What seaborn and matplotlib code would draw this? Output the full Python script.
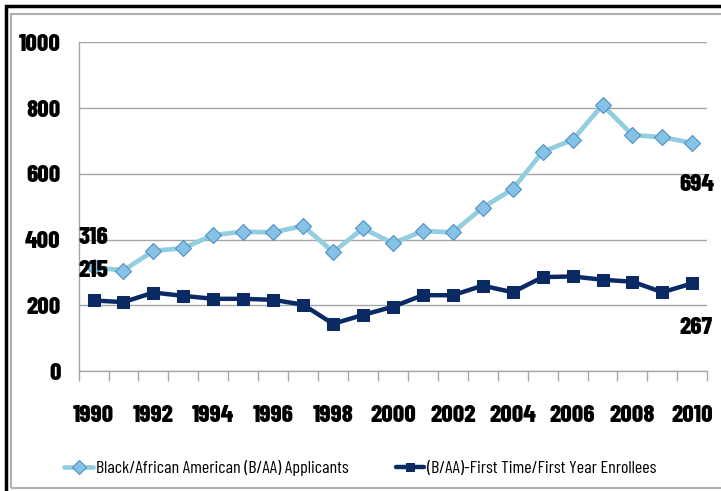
import pandas as pd
import numpy as np
import matplotlib
matplotlib.use("Agg")
import matplotlib.pyplot as plt
import seaborn as sns
from matplotlib.patches import Rectangle
from matplotlib.ticker import FixedLocator

# data
years = list(range(1990, 2011))
applicants = [316, 306, 366, 374, 414, 424, 422, 442, 362, 434, 389, 426, 422, 497,
              554, 667, 703, 809, 718, 711, 694]
enrollees = [215, 210, 239, 229, 220, 220, 217, 202, 144, 171, 196, 231, 231, 260,
             240, 286, 288, 278, 272, 240, 267]
labels = ["Black/African American (B/AA) Applicants",
          "(B/AA)-First Time/First Year Enrollees"]
year_ticks = list(range(1990, 2011, 2))
y_ticks = [0, 200, 400, 600, 800, 1000]

sns.set_theme(style="white")
plt.rcParams['font.family'] = ['Barlow Condensed', 'Liberation Sans', 'DejaVu Sans']

df = pd.DataFrame({"year": years, labels[0]: applicants, labels[1]: enrollees})
long = df.melt(id_vars="year", var_name="series", value_name="value")

fig = plt.figure(figsize=(7.21, 4.91), dpi=100)
ax = fig.add_axes([0.109, 0.244, 0.872, 0.670])

light = "#93cde0"
dark = "#0b2a64"

sns.lineplot(data=long[long.series == labels[0]], x="year", y="value", ax=ax,
             color=light, lw=3.4, marker="D", markersize=8.5,
             markerfacecolor="#86c2e6", markeredgecolor="#4f8fc4", markeredgewidth=0.8,
             label=labels[0])
sns.lineplot(data=long[long.series == labels[1]], x="year", y="value", ax=ax,
             color=dark, lw=3.2, marker="s", markersize=8,
             markerfacecolor=dark, markeredgecolor=dark,
             label=labels[1])

ax.set_xlim(1989.5, 2010.5)
ax.set_ylim(0, 1000)
ax.set_yticks(y_ticks)
ax.set_xticks(year_ticks)
ax.xaxis.set_minor_locator(FixedLocator(np.arange(1989.5, 2011, 1)))
ax.set_xlabel("")
ax.set_ylabel("")
ax.grid(axis="y", color="#a6a6a6", lw=1)
ax.set_axisbelow(True)
for s in ["top", "right"]:
    ax.spines[s].set_visible(False)
for s in ["left", "bottom"]:
    ax.spines[s].set_color("#a6a6a6")
    ax.spines[s].set_linewidth(1)

ax.tick_params(axis="y", which="major", length=5, color="#a6a6a6", pad=8,
               labelsize=18, labelcolor="black")
ax.tick_params(axis="x", which="major", length=0, pad=24, labelsize=18,
               labelcolor="black")
ax.tick_params(axis="x", which="minor", length=7, color="#a6a6a6", bottom=True)
for t in ax.get_xticklabels() + ax.get_yticklabels():
    t.set_fontweight("heavy")

# data labels
lab_kw = dict(textcoords="offset points", ha="center", va="center",
              fontsize=18, fontweight="heavy", color="black")
ax.annotate(str(applicants[0]), (years[0], applicants[0]), xytext=(0, 21), **lab_kw)
ax.annotate(str(enrollees[0]), (years[0], enrollees[0]), xytext=(0, 21), **lab_kw)
ax.annotate(str(applicants[-1]), (years[-1], applicants[-1]), xytext=(3, -30), **lab_kw)
ax.annotate(str(enrollees[-1]), (years[-1], enrollees[-1]), xytext=(3, -32), **lab_kw)

ax.get_legend().remove()
h, l = ax.get_legend_handles_labels()
leg = fig.legend(h, l, loc="center", bbox_to_anchor=(0.5, 0.047), ncol=2, frameon=False,
                 fontsize=13, handlelength=1.6, columnspacing=2.6, handletextpad=0.15,
                 markerscale=0.8)
for t in leg.get_texts():
    t.set_color("black")

# frame
fig.add_artist(Rectangle((11 / 721, 3 / 491), 1.0, 474 / 491, transform=fig.transFigure,
                         fill=False, edgecolor="#b0b0b0", lw=1.5))
fig.add_artist(Rectangle((6 / 721, -0.1), 1.1, 1.1 - 6 / 491, transform=fig.transFigure,
                         fill=False, edgecolor="black", lw=2.5))

fig.savefig("out.png", dpi=100)
